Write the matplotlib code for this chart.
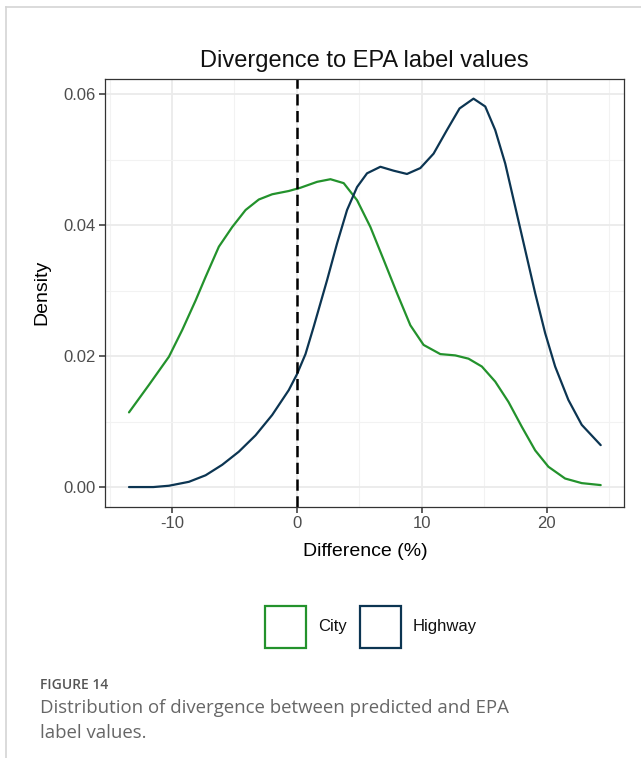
import matplotlib.pyplot as plt
from matplotlib.patches import Rectangle
from matplotlib.lines import Line2D

# values
city_x = [-13.45, -11.85, -10.25, -9.18, -8.11, -7.31, -6.25, -5.18, -4.11, -3.05,
          -1.98, -0.65, 0.29, 1.62, 2.69, 3.75, 4.82, 5.89, 6.95, 8.02, 9.09,
          10.15, 11.49, 12.69, 13.75, 14.82, 15.89, 16.95, 18.02, 19.09, 20.15,
          21.49, 22.82, 24.34]
city_y = [0.0114, 0.0156, 0.0199, 0.0240, 0.0285, 0.0321, 0.0367, 0.0397, 0.0423,
          0.0439, 0.0447, 0.0452, 0.0457, 0.0466, 0.0470, 0.0464, 0.0438, 0.0397,
          0.0347, 0.0296, 0.0247, 0.0217, 0.0203, 0.0201, 0.0196, 0.0184, 0.0161,
          0.0130, 0.0092, 0.0056, 0.0031, 0.0013, 0.0006, 0.0003]

hwy_x = [-13.45, -11.5, -10.25, -8.65, -7.31, -5.98, -4.65, -3.31, -1.98, -0.65,
         0.0, 0.69, 1.35, 2.42, 3.22, 4.02, 4.82, 5.62, 6.69, 7.75, 8.82, 9.89,
         10.95, 12.02, 13.03, 14.15, 15.09, 15.89, 16.69, 17.49, 18.29, 19.09,
         19.89, 20.69, 21.75, 22.82, 24.34]
hwy_y = [0.0, 0.0, 0.0002, 0.0008, 0.0018, 0.0034, 0.0054, 0.0079, 0.0110, 0.0148,
         0.0172, 0.0203, 0.0245, 0.0316, 0.0372, 0.0423, 0.0458, 0.0479, 0.0489,
         0.0483, 0.0478, 0.0487, 0.0509, 0.0545, 0.0578, 0.0593, 0.0581, 0.0545,
         0.0494, 0.0428, 0.0362, 0.0296, 0.0235, 0.0184, 0.0133, 0.0095, 0.0064]

x_ticks = [-10, 0, 10, 20]
x_labels = ["-10", "0", "10", "20"]
y_ticks = [0.00, 0.02, 0.04, 0.06]
y_labels = ["0.00", "0.02", "0.04", "0.06"]
series = ["City", "Highway"]
colors = ["#23922c", "#0c3552"]

plt.rcParams['font.family'] = ['Liberation Sans', 'DejaVu Sans']

W, H = 641, 758
fig = plt.figure(figsize=(W / 100, H / 100), dpi=100)

# thin frame of the figure card
fig.add_artist(Line2D([6 / W, 1], [1 - 7 / H, 1 - 7 / H], color="#d4d4d4", lw=1.2))
fig.add_artist(Line2D([6 / W, 6 / W], [0, 1 - 7 / H], color="#d4d4d4", lw=1.2))

ax = fig.add_axes([105.4 / W, 1 - 506.7 / H, (624.3 - 105.4) / W, (506.7 - 79) / H])

ax.set_xlim(-15.34, 26.23)
ax.set_ylim(-0.003, 0.0623)
ax.set_xticks(x_ticks)
ax.set_xticklabels(x_labels)
ax.set_xticks([-15, -5, 5, 15, 25], minor=True)
ax.set_yticks(y_ticks)
ax.set_yticklabels(y_labels)
ax.set_yticks([0.01, 0.03, 0.05], minor=True)
ax.grid(True, which="major", color="#ebebeb", lw=1.3)
ax.grid(True, which="minor", color="#f2f2f2", lw=0.8)
ax.set_axisbelow(True)
for s in ax.spines.values():
    s.set_color("#333333")
    s.set_linewidth(0.9)
ax.tick_params(which="major", length=4, width=1.1, color="#333333",
               labelcolor="#4d4d4d", labelsize=12, pad=3)
ax.tick_params(which="minor", length=0)

ax.plot(city_x, city_y, color=colors[0], lw=1.6, solid_capstyle="round",
        solid_joinstyle="round")
ax.plot(hwy_x, hwy_y, color=colors[1], lw=1.6, solid_capstyle="round",
        solid_joinstyle="round")
ax.axvline(0, color="black", lw=1.8, ls=(0, (4.5, 2.2)))

fig.text(364 / W, 1 - 61 / H, "Divergence to EPA label values", fontsize=17,
         ha="center", va="center", color="#111111")
ax.set_xlabel("Difference (%)", fontsize=14, labelpad=8)
ax.set_ylabel("Density", fontsize=14, labelpad=9)

# legend boxes
legend_x = [264.5, 359.5]
text_x = [318, 413]
for name, c, bx, tx in zip(series, colors, legend_x, text_x):
    fig.add_artist(Rectangle((bx / W, 1 - 648 / H), 41.5 / W, 42 / H,
                             fill=False, edgecolor=c, lw=1.6))
    fig.text(tx / W, 1 - 627 / H, name, fontsize=12, va="center", color="#111111")

cap_font = ["Open Sans", "DejaVu Sans"]
fig.text(40 / W, 1 - 685 / H, "FIGURE 14", fontsize=10, color="#555555",
         family=cap_font, weight="semibold", va="center")
fig.text(40 / W, 1 - 708 / H, "Distribution of divergence between predicted and EPA",
         fontsize=13.4, color="#666666", family=cap_font, va="center")
fig.text(40 / W, 1 - 733 / H, "label values.",
         fontsize=13.4, color="#666666", family=cap_font, va="center")

fig.savefig("out.png", dpi=100)
